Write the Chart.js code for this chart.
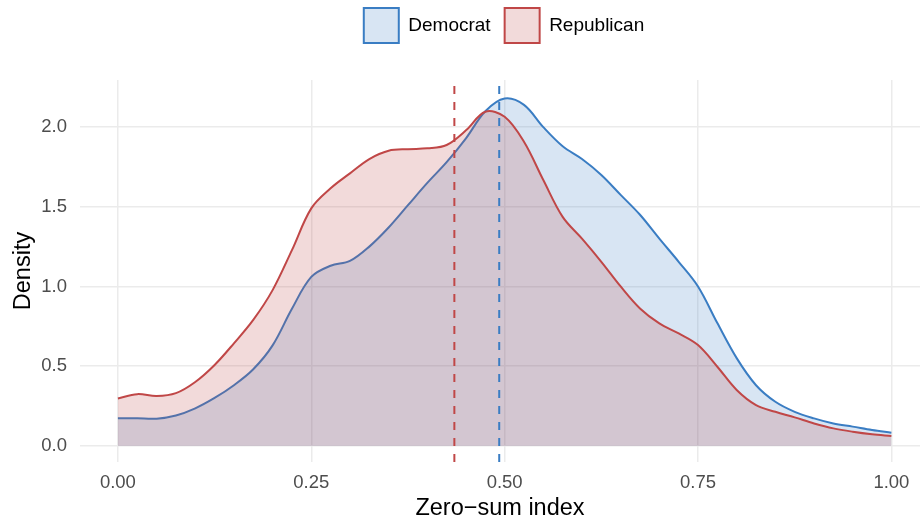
<!DOCTYPE html>
<html>
<head>
<meta charset="utf-8">
<script src="https://cdn.jsdelivr.net/npm/chart.js@4/dist/chart.umd.min.js"></script>
<style>
  html, body { margin: 0; padding: 0; background: #fff; }
  #wrap { width: 920px; height: 523px; }
</style>
</head>
<body>
<div id="wrap"><canvas id="graph"></canvas></div>
<script>
// Zero-sum index grid (x) for the density estimates
const zeroSumIndex = [
  0, 0.025, 0.05, 0.075, 0.1, 0.125, 0.15, 0.175, 0.2, 0.225,
  0.25, 0.275, 0.3, 0.325, 0.35, 0.375, 0.4, 0.425, 0.45, 0.475,
  0.5, 0.525, 0.55, 0.575, 0.6, 0.625, 0.65, 0.675, 0.7, 0.725,
  0.75, 0.775, 0.8, 0.825, 0.85, 0.875, 0.9, 0.925, 0.95, 0.975, 1
]

const democratDensity = [
  0.172, 0.172, 0.17, 0.19, 0.235, 0.30, 0.38, 0.48, 0.63, 0.86,
  1.06, 1.13, 1.16, 1.25, 1.37, 1.51, 1.65, 1.78, 1.93, 2.10,
  2.18, 2.14, 2.00, 1.88, 1.80, 1.70, 1.575, 1.45, 1.30, 1.155,
  1.0, 0.77, 0.55, 0.38, 0.276, 0.213, 0.172, 0.14, 0.12, 0.099, 0.082
]

const republicanDensity = [
  0.297, 0.324, 0.312, 0.33, 0.40, 0.507, 0.643, 0.79, 0.977, 1.228,
  1.49, 1.616, 1.71, 1.80, 1.852, 1.862, 1.867, 1.888, 1.98, 2.097,
  2.065, 1.908, 1.668, 1.437, 1.30, 1.155, 1.0, 0.862, 0.768, 0.705,
  0.632, 0.496, 0.35, 0.255, 0.213, 0.178, 0.14, 0.109, 0.088, 0.072, 0.061
]

// group means (dashed vertical lines)
const democratMean = 0.493
const republicanMean = 0.435

const xTickValues = [0, 0.25, 0.5, 0.75, 1]
const xTickLabels = ['0.00', '0.25', '0.50', '0.75', '1.00']
const yTickValues = [0, 0.5, 1, 1.5, 2]
const yTickLabels = ['0.0', '0.5', '1.0', '1.5', '2.0']

const X_RANGE = [-0.049, 1.037]
const Y_RANGE = [-0.102, 2.296]

const COLOURS = Object.freeze({
  democrat: { line: '#3A7DC3', fill: 'rgba(61,125,195,0.2)' },
  republican: { line: '#C04747', fill: 'rgba(192,72,72,0.2)' },
})

const FONT = '"Liberation Sans", Arial, Helvetica, sans-serif'

const toPoints = (ys) => ys.map((y, i) => ({ x: zeroSumIndex[i], y: y }))
const meanLine = (m) => [{ x: m, y: Y_RANGE[0] }, { x: m, y: Y_RANGE[1] }]

// Fix the legend block height (so the panel starts at the right place)
// and nudge it to where ggplot put it.
const legendPlacement = {
  id: 'legendPlacement',
  beforeLayout(chart) {
    const legend = chart.legend
    if (legend && !legend._fixed) {
      const fit = legend.fit
      legend.fit = function () {
        fit.call(this)
        this.height = 80
      }
      legend._fixed = true
    }
  },
  afterLayout(chart) {
    const legend = chart.legend
    if (!legend) return
    legend.left += 44
    legend.right += 44
    legend.top -= 6
    legend.bottom -= 6
  },
}

const ctx = document.getElementById('graph').getContext('2d')

new Chart(ctx, {
  type: 'line',
  data: {
    datasets: [
      {
        label: 'Democrat',
        data: toPoints(democratDensity),
        borderColor: COLOURS.democrat.line,
        backgroundColor: COLOURS.democrat.fill,
        borderWidth: 2,
        fill: 'origin',
        pointRadius: 0,
        tension: 0.35,
        order: 2,
      },
      {
        label: 'Republican',
        data: toPoints(republicanDensity),
        borderColor: COLOURS.republican.line,
        backgroundColor: COLOURS.republican.fill,
        borderWidth: 2,
        fill: 'origin',
        pointRadius: 0,
        tension: 0.35,
        order: 1,
      },
      {
        label: 'democratMean',
        data: meanLine(democratMean),
        borderColor: COLOURS.democrat.line,
        borderWidth: 2,
        borderDash: [8, 8],
        pointRadius: 0,
        fill: false,
        order: 0,
      },
      {
        label: 'republicanMean',
        data: meanLine(republicanMean),
        borderColor: COLOURS.republican.line,
        borderWidth: 2,
        borderDash: [8, 8],
        pointRadius: 0,
        fill: false,
        order: 0,
      },
    ],
  },
  options: {
    responsive: true,
    maintainAspectRatio: false,
    animation: false,
    layout: { padding: 0 },
    plugins: {
      tooltip: { enabled: false },
      legend: {
        position: 'top',
        align: 'center',
        labels: {
          boxWidth: 35,
          boxHeight: 35,
          padding: 14,
          color: '#000',
          font: { family: FONT, size: 19 },
          filter: (item) => item.datasetIndex < 2,
          sort: (a, b) => a.datasetIndex - b.datasetIndex,
        },
      },
    },
    scales: {
      x: {
        type: 'linear',
        min: X_RANGE[0],
        max: X_RANGE[1],
        afterFit: (scale) => { scale.height = 61 },
        afterBuildTicks: (scale) => {
          scale.ticks = xTickValues.map((v) => ({ value: v }))
        },
        ticks: {
          padding: 10,
          color: '#4D4D4D',
          font: { family: FONT, size: 18.5 },
          maxRotation: 0,
          callback: (v) => xTickLabels[xTickValues.indexOf(v)],
        },
        grid: { color: '#EBEBEB', lineWidth: 1.5, drawTicks: false },
        border: { display: false },
        title: {
          display: true,
          text: 'Zero−sum index',
          color: '#000',
          font: { family: FONT, size: 23.5 },
          padding: { top: 6, bottom: 0 },
        },
      },
      y: {
        type: 'linear',
        min: Y_RANGE[0],
        max: Y_RANGE[1],
        afterFit: (scale) => { scale.width = 80 },
        afterBuildTicks: (scale) => {
          scale.ticks = yTickValues.map((v) => ({ value: v }))
        },
        ticks: {
          padding: 13,
          color: '#4D4D4D',
          font: { family: FONT, size: 18.5 },
          callback: (v) => yTickLabels[yTickValues.indexOf(v)],
        },
        grid: { color: '#EBEBEB', lineWidth: 1.5, drawTicks: false },
        border: { display: false },
        title: {
          display: true,
          text: 'Density',
          color: '#000',
          font: { family: FONT, size: 23.5 },
          padding: { top: 9, bottom: 0 },
        },
      },
    },
  },
  plugins: [legendPlacement],
})
</script>
</body>
</html>
